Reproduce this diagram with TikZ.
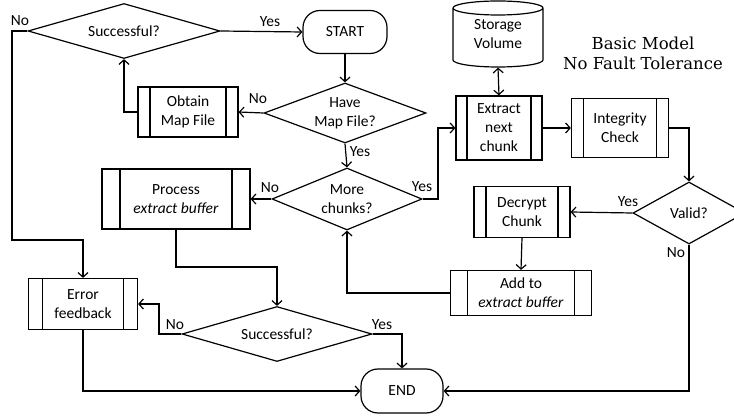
\documentclass[tikz,border=0pt]{standalone}
\usepackage{fontspec}
\setmainfont{Carlito}
\newfontfamily\titlefont{DejaVu Serif}
\usetikzlibrary{shapes.geometric,arrows.meta}

\tikzset{
  base/.style={font=\fontsize{15.5}{19}\selectfont, align=center, inner sep=0pt, line width=1.2pt},
  decision/.style={base, draw, diamond, aspect=3},
  terminal/.style={base, draw, rectangle, rounded corners=17pt},
  proc/.style={base, draw, rectangle,
    path picture={
      \draw[line width=1.2pt]
        ([xshift=#1]path picture bounding box.north west) -- ([xshift=#1]path picture bounding box.south west)
        ([xshift=-#1]path picture bounding box.north east) -- ([xshift=-#1]path picture bounding box.south east);}},
  proc/.default=12pt,
  lbl/.style={font=\fontsize{15.5}{17}\selectfont, inner sep=0pt},
  barb/.tip={Straight Barb[length=4.5pt,width=10pt,line width=1.2pt]},
  arr/.style={line width=1.2pt, -barb},
  dblarr/.style={line width=1.2pt, barb-barb},
}

\begin{document}
\begin{tikzpicture}[x=1pt, y=-1pt]
\useasboundingbox (0,0) rectangle (734,419);

% decisions
\node[decision, minimum width=192pt, minimum height=55pt] (succ1) at (124,31) {Successful?};
\node[decision, minimum width=162pt, minimum height=60pt] (havemap) at (345,113) {Have\\Map File?};
\node[decision, minimum width=150pt, minimum height=62pt] (more) at (347,199) {More\\chunks?};
\node[decision, minimum width=190pt, minimum height=55pt] (succ2) at (277,334) {Successful?};
\node[decision, minimum width=112pt, minimum height=62pt, aspect=1.8] (valid) at (689,213) {Valid?};

% terminals
\node[terminal, minimum width=84pt, minimum height=43pt] (start) at (345,32) {START};
\node[terminal, minimum width=82pt, minimum height=44pt] (end) at (402,391) {END};

% predefined processes
\node[proc=12pt, minimum width=100pt, minimum height=50pt] (obtain) at (188,112) {Obtain\\Map File};
\node[proc=18pt, minimum width=148pt, minimum height=60pt] (process) at (176,199) {Process\\\textit{extract buffer}};
\node[proc=14pt, minimum width=109pt, minimum height=51pt] (error) at (83,304) {Error\\feedback};
\node[proc=11pt, minimum width=86pt, minimum height=64pt] (extract) at (499,128) {Extract\\next\\chunk};
\node[proc=12pt, minimum width=97pt, minimum height=59pt] (integrity) at (620,128) {Integrity\\Check};
\node[proc=12pt, minimum width=96pt, minimum height=51pt] (decrypt) at (522,212) {Decrypt\\Chunk};
\node[proc=17pt, minimum width=141pt, minimum height=45pt] (addto) at (521,293) {Add to\\\textit{extract buffer}};

% storage cylinder
\node[base, minimum width=90pt, minimum height=66pt] (storage) at (498,34) {Storage\\Volume};
\draw[line width=1.2pt] (453,8) arc[start angle=180, end angle=-180, x radius=45pt, y radius=7pt]
  (453,8) -- (453,60) arc[start angle=180, end angle=360, x radius=45pt, y radius=7pt] -- (543,8);

% title
\node[font=\titlefont\fontsize{16.5}{20}\selectfont, align=center, inner sep=0pt] (title) at (643,53)
  {Basic Model\\No Fault Tolerance};

% connectors
\coordinate (k1) at (12,240);
\coordinate (k2) at (438,160);
\coordinate (k3) at (159,320);
\coordinate (k4) at (176,267);

\draw[arr] (succ1.east) -- (start.west);
\draw[arr] (succ1.west) -| (k1) -| (error.north);
\draw[arr] (start.south) -- (havemap.north);
\draw[arr] (havemap.west) -- (obtain.east);
\draw[arr] (obtain.west) -| (succ1.south);
\draw[arr] (havemap.south) -- (more.north);
\draw[arr] (more.west) -- (process.east);
\draw[arr] (more.east) -| (k2) |- (extract.west);
\draw[dblarr] (storage.south) -- (extract.north);
\draw[arr] (extract.east) -- (integrity.west);
\draw[arr] (integrity.east) -| (valid.north);
\draw[arr] (valid.west) -- (decrypt.east);
\draw[arr] (decrypt.south) -- (addto.north);
\draw[arr] (addto.west) -| (more.south);
\draw[arr] (valid.south) |- (end.east);
\draw[arr] (process.south) -- (k4) -| (succ2.north);
\draw[arr] (succ2.west) -| (k3) |- (error.east);
\draw[arr] (succ2.east) -| (end.north);
\draw[arr] (error.south) |- (end.west);

% connector labels
\node[lbl] (l1) at (270,22) {Yes};
\node[lbl] (l2) at (20,21) {No};
\node[lbl] (l3) at (258,99) {No};
\node[lbl] (l4) at (360,152) {Yes};
\node[lbl] (l5) at (270,188) {No};
\node[lbl] (l6) at (422,187) {Yes};
\node[lbl] (l7) at (628,202) {Yes};
\node[lbl] (l8) at (676,253) {No};
\node[lbl] (l9) at (175,325) {No};
\node[lbl] (l10) at (382,325) {Yes};
\end{tikzpicture}
\end{document}
